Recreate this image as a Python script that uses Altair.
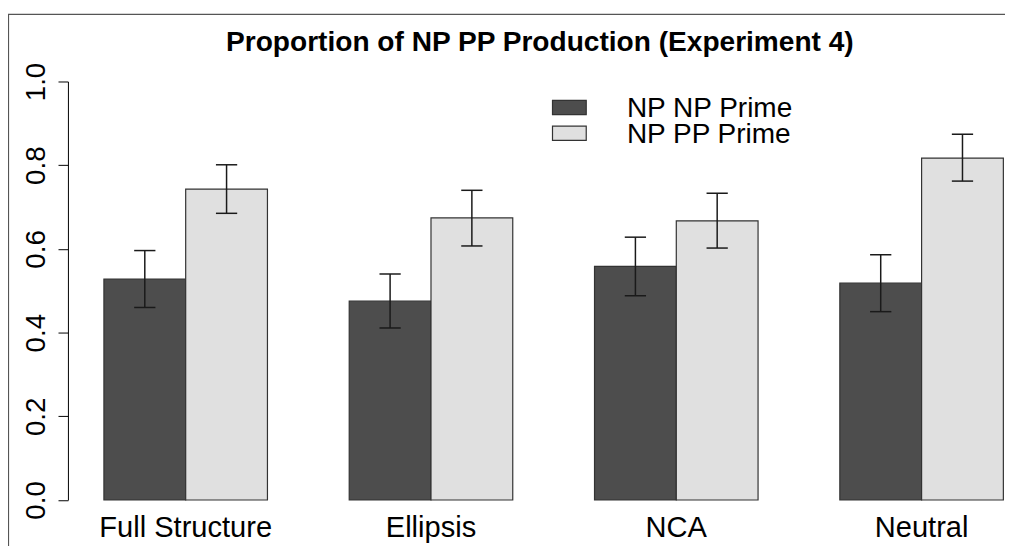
import altair as alt
import pandas as pd

# ---- data ----
categories = ["Full Structure", "Ellipsis", "NCA", "Neutral"]
series = ["NP NP Prime", "NP PP Prime"]
np_np_mean = [0.528, 0.475, 0.558, 0.518]
np_np_lo = [0.460, 0.411, 0.488, 0.450]
np_np_hi = [0.596, 0.540, 0.628, 0.586]
np_pp_mean = [0.743, 0.674, 0.667, 0.817]
np_pp_lo = [0.685, 0.607, 0.602, 0.762]
np_pp_hi = [0.801, 0.740, 0.733, 0.874]
y_ticks = [0.0, 0.2, 0.4, 0.6, 0.8, 1.0]
title_text = "Proportion of NP PP Production (Experiment 4)"

means = [np_np_mean, np_pp_mean]
los = [np_np_lo, np_pp_lo]
his = [np_np_hi, np_pp_hi]

rows = []
for gi, cat in enumerate(categories):
    for si, s in enumerate(series):
        rows.append({"category": cat, "series": s, "g": gi, "s": si,
                     "mean": means[si][gi], "lo": los[si][gi], "hi": his[si][gi]})
df = pd.DataFrame(rows)
cat_df = pd.DataFrame({"category": categories, "g": list(range(len(categories)))})

FONT = "Liberation Sans"
W = 944.3
H = 421.7
xscale = alt.Scale(domain=[0.56, 12.02], nice=False, zero=False)
yscale = alt.Scale(domain=[0, 1], nice=False, zero=True)
colors = alt.Scale(domain=series, range=["#4d4d4d", "#e0e0e0"])

base = alt.Chart(df).transform_calculate(
    xl="datum.g * 3 + 1 + datum.s",
    xr="datum.g * 3 + 2 + datum.s",
    xc="datum.g * 3 + 1.5 + datum.s",
    cl="datum.g * 3 + 1.37 + datum.s",
    cr="datum.g * 3 + 1.63 + datum.s",
)

bars = base.mark_rect(stroke="#333333", strokeWidth=1.2).encode(
    x=alt.X("xl:Q", scale=xscale, axis=None),
    x2="xr:Q",
    y=alt.Y("mean:Q", scale=yscale,
            axis=alt.Axis(values=y_ticks, format=".1f", labelAngle=270,
                          labelAlign="center", labelBaseline="alphabetic",
                          labelPadding=13.4, tickSize=10, grid=False, title=None,
                          domainColor="#000000", tickColor="#000000",
                          domainWidth=1, tickWidth=1, labelFont=FONT,
                          labelFontSize=28, labelColor="#000000")),
    y2=alt.datum(0),
    fill=alt.Fill("series:N", scale=colors, legend=None),
)

err = base.mark_rule(color="#1a1a1a", strokeWidth=1.5).encode(
    x=alt.X("xc:Q", scale=xscale), y=alt.Y("lo:Q", scale=yscale), y2="hi:Q")
cap_lo = base.mark_rule(color="#1a1a1a", strokeWidth=1.5).encode(
    x=alt.X("cl:Q", scale=xscale), x2="cr:Q", y=alt.Y("lo:Q", scale=yscale))
cap_hi = base.mark_rule(color="#1a1a1a", strokeWidth=1.5).encode(
    x=alt.X("cl:Q", scale=xscale), x2="cr:Q", y=alt.Y("hi:Q", scale=yscale))

cat_labels = alt.Chart(cat_df).transform_calculate(xc="datum.g * 3 + 2").mark_text(
    font=FONT, fontSize=29.3, baseline="alphabetic", align="center", color="#000000"
).encode(x=alt.X("xc:Q", scale=xscale), y=alt.value(459.3), text="category:N")

title = alt.Chart(pd.DataFrame({"t": [title_text]})).mark_text(
    font=FONT, fontSize=28.3, fontWeight="bold", baseline="alphabetic",
    align="center", color="#000000"
).encode(x=alt.value(475.6), y=alt.value(-30.5), text="t:N")

leg_df = pd.DataFrame({"series": series})
leg_box1 = alt.Chart(leg_df.iloc[[0]]).mark_rect(stroke="#333333", strokeWidth=1.2).encode(
    x=alt.value(488.3), x2=alt.value(522.3), y=alt.value(19), y2=alt.value(33.3),
    fill=alt.Fill("series:N", scale=colors, legend=None))
leg_box2 = alt.Chart(leg_df.iloc[[1]]).mark_rect(stroke="#333333", strokeWidth=1.2).encode(
    x=alt.value(488.3), x2=alt.value(522.3), y=alt.value(45), y2=alt.value(59.3),
    fill=alt.Fill("series:N", scale=colors, legend=None))
leg_txt1 = alt.Chart(leg_df.iloc[[0]]).mark_text(
    font=FONT, fontSize=28.2, baseline="alphabetic", align="left", color="#000000"
).encode(x=alt.value(563.3), y=alt.value(35.7), text="series:N")
leg_txt2 = alt.Chart(leg_df.iloc[[1]]).mark_text(
    font=FONT, fontSize=28.2, baseline="alphabetic", align="left", color="#000000"
).encode(x=alt.value(563.3), y=alt.value(62.3), text="series:N")

frame = alt.Chart(pd.DataFrame({"k": [0]})).mark_rect(
    fill=None, stroke="#555555", strokeWidth=1.2
).encode(x=alt.value(-59.9), x2=alt.value(1000), y=alt.value(-67.7), y2=alt.value(520))

chart = alt.layer(
    frame, bars, err, cap_lo, cap_hi, cat_labels, title,
    leg_box1, leg_box2, leg_txt1, leg_txt2
).properties(
    width=W, height=H,
    autosize=alt.AutoSizeParams(type="none"),
    padding={"left": 60.4, "top": 72, "right": 0, "bottom": 44},
    background="#ffffff",
).configure_view(stroke=None)

chart.save("out.html", embed_options={"renderer": "svg", "actions": False})
